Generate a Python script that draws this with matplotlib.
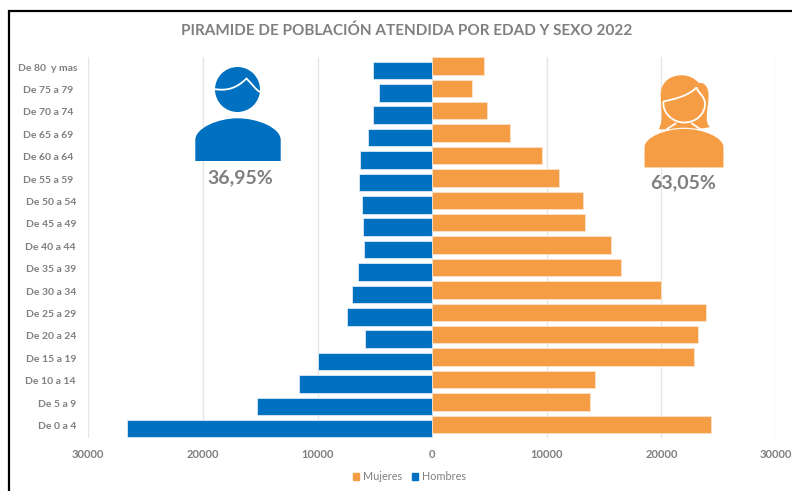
import numpy as np
import matplotlib
matplotlib.use("Agg")
import matplotlib.pyplot as plt
from matplotlib.path import Path
from matplotlib.patches import PathPatch, Circle, Patch
from matplotlib.ticker import FuncFormatter

plt.rcParams['font.family'] = ['Lato', 'DejaVu Sans']

edades = ["De 0 a 4", "De 5 a 9", "De 10 a 14", "De 15 a 19", "De 20 a 24", "De 25 a 29",
          "De 30 a 34", "De 35 a 39", "De 40 a 44", "De 45 a 49", "De 50 a 54", "De 55 a 59",
          "De 60 a 64", "De 65 a 69", "De 70 a 74", "De 75 a 79", "De 80  y mas"]
hombres = [26630, 15280, 11610, 10000, 5850, 7390, 6950, 6510, 5930, 5990, 6140, 6370,
           6310, 5640, 5200, 4630, 5200]
mujeres = [24300, 13790, 14170, 22840, 23190, 23920, 19930, 16500, 15570, 13360, 13150, 11030,
           9570, 6810, 4770, 3520, 4540]
ticks_x = [-30000, -20000, -10000, 0, 10000, 20000, 30000]

AZUL = '#0070C0'
NARANJA = '#F59D45'
GRIS = '#7F7F7F'
W, H = 792, 491

fig = plt.figure(figsize=(W / 100, H / 100), dpi=100)
ax = fig.add_axes([88.3 / W, 1 - 437.7 / H, (776 - 88.3) / W, (437.7 - 57) / H])

y = np.arange(len(edades))
ax.barh(y - 0.1, -np.array(hombres), height=0.78, color=AZUL, edgecolor='#DCE9F5', linewidth=0.6, zorder=3)
ax.barh(y + 0.1, mujeres, height=0.78, color=NARANJA, edgecolor='#FCE3CB', linewidth=0.6, zorder=3)

ax.set_xlim(-30000, 30000)
ax.set_ylim(-0.5, len(edades) - 0.5)
ax.set_xticks(ticks_x)
ax.xaxis.set_major_formatter(FuncFormatter(lambda v, pos: str(int(abs(v)))))
ax.tick_params(axis='x', length=0, pad=8, labelsize=8, labelcolor=GRIS)
for t in ax.get_xticklabels():
    t.set_fontweight('bold')
ax.set_yticks([])
ax.grid(axis='x', color='#E6E6E6', linewidth=1, zorder=0)
ax.set_axisbelow(True)
for s in ax.spines.values():
    s.set_visible(False)

# category labels: the top six are centred in the original, the rest right aligned
trans = ax.get_yaxis_transform()
for i, e in enumerate(edades):
    if i >= 11:
        ax.text((48 - 88.3) / (776 - 88.3), i, e, transform=trans, ha='center', va='center',
                fontsize=7.5, fontweight='bold', color=GRIS)
    else:
        ax.text((76 - 88.3) / (776 - 88.3), i, e, transform=trans, ha='right', va='center',
                fontsize=7.5, fontweight='bold', color=GRIS)

fig.text(407 / W, 1 - 31 / H, "PIRAMIDE DE POBLACIÓN ATENDIDA POR EDAD Y SEXO 2022", ha='center', va='center',
         fontsize=11, fontweight='bold', color=GRIS)

fig.legend(handles=[Patch(color=NARANJA, label='Mujeres'), Patch(color=AZUL, label='Hombres')],
           loc='center', bbox_to_anchor=(409.5 / W, 1 - 477 / H), ncol=2, frameon=False, fontsize=7.8,
           labelcolor=GRIS, handlelength=0.55, handleheight=0.55, handletextpad=0.35, columnspacing=0.9)

# overlay in pixel coordinates for icons and frame
ov = fig.add_axes([0, 0, 1, 1], zorder=5)
ov.set_xlim(0, W)
ov.set_ylim(H, 0)
ov.axis('off')
ov.patch.set_alpha(0)

# hombre
ov.add_patch(Circle((237.5, 89.5), 22.5, color=AZUL, lw=0))
ov.add_patch(PathPatch(Path(
    [(195.3, 161), (195.3, 140), (195.3, 128), (218, 118.3), (237.5, 118.3),
     (258, 118.3), (280.7, 128), (280.7, 140), (280.7, 161), (195.3, 161)],
    [Path.MOVETO, Path.LINETO, Path.CURVE4, Path.CURVE4, Path.CURVE4,
     Path.CURVE4, Path.CURVE4, Path.CURVE4, Path.LINETO, Path.CLOSEPOLY]), fc=AZUL, lw=0))
ov.add_patch(PathPatch(Path(
    [(214, 89), (226, 91), (236, 89), (246.5, 78.5), (252, 84), (256, 90), (260, 92)],
    [Path.MOVETO, Path.CURVE4, Path.CURVE4, Path.CURVE4, Path.CURVE4, Path.CURVE4, Path.CURVE4]),
    fc='none', ec='white', lw=1.3))
ov.text(240, 178, "36,95%", ha='center', va='center', fontsize=14, fontweight='bold', color=GRIS)

# mujer
ov.add_patch(PathPatch(Path(
    [(660.7, 95), (660.7, 82), (670, 75.3), (681.7, 75.3), (690, 75.3), (695, 79), (699, 83),
     (705, 82), (709, 88), (708.5, 97), (708, 110), (704, 122), (710, 127),
     (698, 130), (670, 130), (658.7, 129), (664, 120), (660.7, 108), (660.7, 95), (660.7, 95)],
    [Path.MOVETO, Path.CURVE4, Path.CURVE4, Path.CURVE4, Path.CURVE4, Path.CURVE4, Path.CURVE4,
     Path.CURVE4, Path.CURVE4, Path.CURVE4, Path.CURVE4, Path.CURVE4, Path.CURVE4,
     Path.CURVE4, Path.CURVE4, Path.CURVE4, Path.CURVE4, Path.CURVE4, Path.CURVE4, Path.CLOSEPOLY]),
    fc=NARANJA, lw=0))
ov.add_patch(PathPatch(Path(
    [(663.5, 101.5), (675, 99), (688, 96), (696.5, 87.5), (698, 93), (705, 96), (705, 104),
     (705, 114), (696, 122.5), (684, 122.5), (672, 122.5), (662, 112), (663.5, 101.5)],
    [Path.MOVETO, Path.CURVE4, Path.CURVE4, Path.CURVE4, Path.CURVE4, Path.CURVE4, Path.CURVE4,
     Path.CURVE4, Path.CURVE4, Path.CURVE4, Path.CURVE4, Path.CURVE4, Path.CURVE4]),
    fc=NARANJA, ec='white', lw=1.3))
# white notches beside the neck
ov.plot([667, 675.5], [129, 123.5], color='white', lw=1.3)
ov.plot([692, 700], [123.5, 129], color='white', lw=1.3)
ov.add_patch(PathPatch(Path(
    [(644, 168), (644, 147), (644, 137), (665, 128.3), (684, 128.3),
     (703, 128.3), (724, 137), (724, 147), (724, 168), (644, 168)],
    [Path.MOVETO, Path.LINETO, Path.CURVE4, Path.CURVE4, Path.CURVE4,
     Path.CURVE4, Path.CURVE4, Path.CURVE4, Path.LINETO, Path.CLOSEPOLY]),
    fc=NARANJA, ec='white', lw=0.8))
ov.text(683, 182.7, "63,05%", ha='center', va='center', fontsize=14, fontweight='bold', color=GRIS)

# black frame, left and top only
ov.plot([9, 9, W], [H, 11, 11], color='black', lw=1.6, solid_joinstyle='miter')

fig.savefig('out.png', dpi=100)
